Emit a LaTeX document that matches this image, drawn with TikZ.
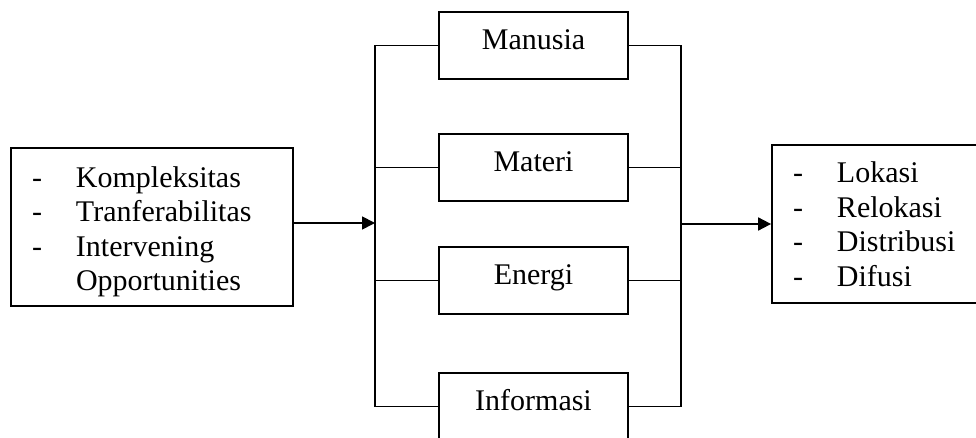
\documentclass[tikz,border=0pt]{standalone}
\usepackage{fontspec}
\setmainfont{Liberation Serif}
\usetikzlibrary{arrows.meta}

\begin{document}
\begin{tikzpicture}[x=1pt,y=-1pt,line width=1.8pt,
    every node/.style={font=\fontsize{30}{34.5}\selectfont},
    kotak/.style={draw,rectangle,minimum width=189pt,minimum height=67pt,inner sep=0pt,text height=20pt,text depth=12pt},
    daftar/.style={draw,rectangle,inner xsep=21pt,inner ysep=0pt,text width=240pt,align=left,minimum height=158pt},
    panah/.style={-{Triangle[length=13pt,width=13pt]}}]
            \clip (0,0) rectangle (976,438);
            %faktor
            \node[daftar] (faktor) at (152,227) {\rule{0pt}{30pt}\makebox[44pt][l]{-}Kompleksitas\\
                \makebox[44pt][l]{-}Tranferabilitas\\ \makebox[44pt][l]{-}Intervening\\ \hspace*{44pt}Opportunities};
            %akibat
            \node[daftar] (akibat) at (913,224) {\makebox[44pt][l]{-}Lokasi\\ \makebox[44pt][l]{-}Relokasi\\
                \makebox[44pt][l]{-}Distribusi\\ \makebox[44pt][l]{-}Difusi};
            %yang dipindahkan
            \node[kotak] (manusia) at (533.5,45.5) {Manusia};
            \node[kotak] (materi) at (533.5,167.5) {Materi};
            \node[kotak] (energi) at (533.5,280.5) {Energi};
            \node[kotak] (informasi) at (533.5,406.5) {Informasi};
            \coordinate (kiri) at (375,0);
            \coordinate (kanan) at (681,0);
            \coordinate (masuk) at (375,223);
            \coordinate (keluar) at (681,224);
            \draw (manusia.west) -- (manusia.west -| kiri) -- (informasi.west -| kiri) -- (informasi.west);
            \draw (materi.west) -- (materi.west -| kiri);
            \draw (energi.west) -- (energi.west -| kiri);
            \draw (manusia.east) -- (manusia.east -| kanan) -- (informasi.east -| kanan) -- (informasi.east);
            \draw (materi.east) -- (materi.east -| kanan);
            \draw (energi.east) -- (energi.east -| kanan);
            \draw[panah] (faktor.east |- masuk) -- (masuk);
            \draw[panah] (keluar) -- (akibat.west |- keluar);
\end{tikzpicture}
\end{document}
